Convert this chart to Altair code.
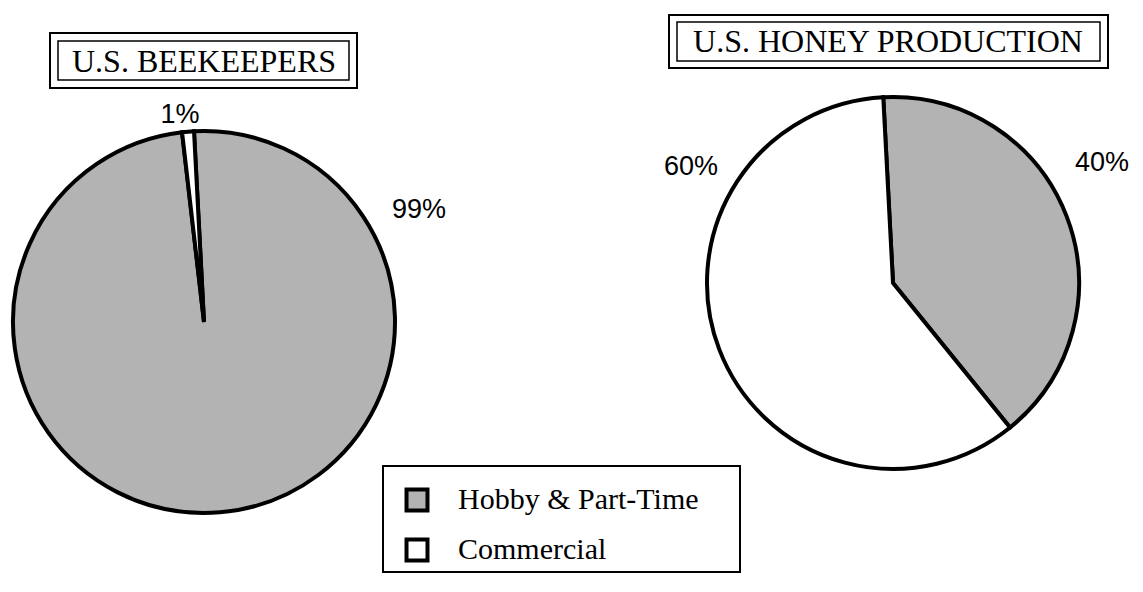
import math
import altair as alt
import pandas as pd

# ---- data ----
categories = ["Hobby & Part-Time", "Commercial"]
beekeepers_pct = [99, 1]
honey_pct = [40, 60]
titles = ["U.S. BEEKEEPERS", "U.S. HONEY PRODUCTION"]
fills = ["#b3b3b3", "#ffffff"]

W, H = 1127, 576
start = math.radians(-3)
theta_scale = alt.Scale(domain=[0, 100], range=[start, start + 2 * math.pi])
color_scale = alt.Scale(domain=categories, range=fills)


def pie(values, cx, cy, r):
    df = pd.DataFrame({"category": categories, "pct": values, "rank": [0, 1]})
    return alt.Chart(df).mark_arc(outerRadius=r, stroke="black", strokeWidth=4).encode(
        theta=alt.Theta("pct:Q", stack=True, scale=theta_scale),
        color=alt.Color("category:N", scale=color_scale, legend=alt.Legend(title=None)),
        order=alt.Order("rank:Q"),
        x=alt.value(cx),
        y=alt.value(cy),
    )


def pct_label(value, x, y):
    df = pd.DataFrame({"t": [f"{value}%"]})
    return alt.Chart(df).mark_text(
        font="Liberation Sans", fontSize=27, color="black", align="center", baseline="middle"
    ).encode(text="t:N", x=alt.value(x), y=alt.value(y))


def box(x1, x2, y1, y2, sw):
    df = pd.DataFrame({"k": [0]})
    return alt.Chart(df).mark_rect(fillOpacity=0, stroke="black", strokeWidth=sw).encode(
        x=alt.value(x1), x2=alt.value(x2), y=alt.value(y1), y2=alt.value(y2)
    )


def title_text(t, x, y):
    df = pd.DataFrame({"t": [t]})
    return alt.Chart(df).mark_text(
        font="Liberation Serif", fontSize=32, color="black", align="center", baseline="middle"
    ).encode(text="t:N", x=alt.value(x), y=alt.value(y))


layers = [
    pie(beekeepers_pct, 196, 314, 191),
    pie(honey_pct, 885, 275, 186),
    pct_label(beekeepers_pct[1], 172, 107),
    pct_label(beekeepers_pct[0], 411, 202),
    pct_label(honey_pct[1], 683, 159),
    pct_label(honey_pct[0], 1094, 155),
    box(42, 349, 25, 80, 2),
    box(50, 341, 33, 72, 1.5),
    title_text(titles[0], 196, 54),
    box(661, 1100, 7, 60, 2),
    box(669, 1092, 14, 53, 1.5),
    title_text(titles[1], 880, 34),
    box(375, 732, 458, 564, 2),
]

chart = alt.layer(*layers).properties(
    width=W, height=H, padding=0, autosize="none"
).configure_view(stroke=None).configure_legend(
    orient="none",
    legendX=394,
    legendY=477,
    symbolType="square",
    symbolSize=440,
    symbolStrokeColor="black",
    symbolStrokeWidth=4,
    symbolOpacity=1,
    labelFont="Liberation Serif",
    labelFontSize=30,
    labelColor="black",
    labelOffset=26,
    labelLimit=400,
    rowPadding=12,
    padding=0,
)

chart.save("out.html", embed_options={"renderer": "svg", "actions": False})
